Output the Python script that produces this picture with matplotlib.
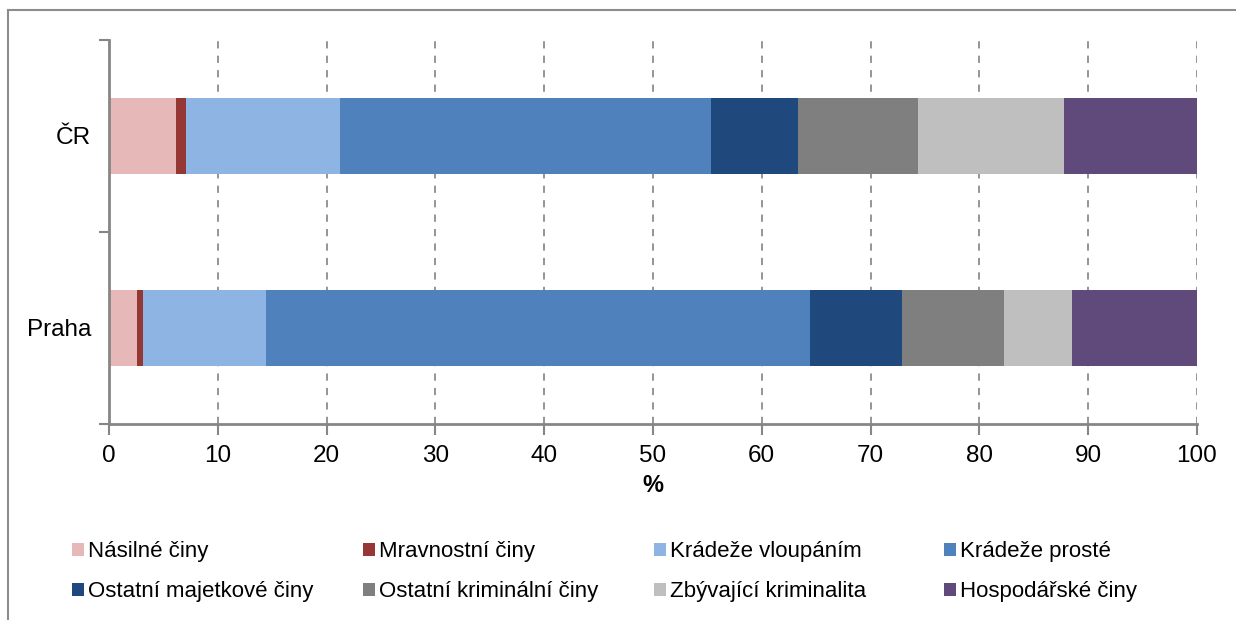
import matplotlib
matplotlib.use("Agg")
import matplotlib.pyplot as plt
from matplotlib.patches import Patch
from matplotlib.lines import Line2D
import numpy as np

plt.rcParams['font.family'] = ['Liberation Sans', 'DejaVu Sans']

categories = ["Praha", "ČR"]
series_names = ["Násilné činy", "Mravnostní činy", "Krádeže vloupáním", "Krádeže prosté",
                "Ostatní majetkové činy", "Ostatní kriminální činy", "Zbývající kriminalita",
                "Hospodářské činy"]
praha_values = [2.6, 0.5, 11.3, 50.0, 8.5, 9.4, 6.2, 11.5]
cr_values = [6.2, 0.9, 14.1, 34.1, 8.0, 11.1, 13.4, 12.2]
colors = ["#E6B9B8", "#953735", "#8EB4E3", "#4F81BD", "#1F497D", "#7F7F7F", "#BFBFBF", "#604A7B"]
xticks = [0, 10, 20, 30, 40, 50, 60, 70, 80, 90, 100]

W, H = 1236, 620
fig = plt.figure(figsize=(W / 100, H / 100), dpi=100)
ax = fig.add_axes([109 / W, 1 - 424 / H, (1197 - 109) / W, (424 - 40) / H])

data = np.array([praha_values, cr_values])
y = np.arange(len(categories))
left = np.zeros(len(categories))
handles = []
for i, name in enumerate(series_names):
    ax.barh(y, data[:, i], left=left, height=0.4, color=colors[i],
            edgecolor='none', zorder=3)
    left += data[:, i]
    handles.append(Patch(facecolor=colors[i], edgecolor='none', label=name))

ax.set_xlim(0, 100)
ax.set_ylim(-0.5, 1.5)
ax.set_xticks(xticks)
ax.set_xticklabels([str(t) for t in xticks], fontsize=17.5)
ax.set_yticks(y)
ax.set_yticklabels(categories, fontsize=17.5)
ax.set_yticks([-0.5, 0.5, 1.5], minor=True)
ax.tick_params(axis='y', which='major', length=0, pad=13)
ax.tick_params(axis='y', which='minor', length=7, width=1.5, color='#868686')
ax.tick_params(axis='x', which='major', length=8, width=1.5, color='#868686', pad=7)

ax.xaxis.grid(True, linestyle=(0, (4, 4)), color='#8C8C8C', linewidth=1.3, zorder=0)
ax.yaxis.grid(False)
for s in ['top', 'right']:
    ax.spines[s].set_visible(False)
for s in ['left', 'bottom']:
    ax.spines[s].set_color('#868686')
    ax.spines[s].set_linewidth(2)
    ax.spines[s].set_zorder(4)

ax.set_xlabel('%', fontsize=17, fontweight='bold', labelpad=5)

# outer border (left and top visible)
fig.add_artist(Line2D([8 / W, 8 / W], [0, 1 - 10 / H], color='#8C8C8C', linewidth=1.5,
                      transform=fig.transFigure))
fig.add_artist(Line2D([8 / W, 1], [1 - 10 / H, 1 - 10 / H], color='#8C8C8C', linewidth=1.5,
                      transform=fig.transFigure))

# legend: 2 rows x 4 columns
col_x = [72, 363, 654, 944]
row_y = [552, 592]
for i, h in enumerate(handles):
    r, c = divmod(i, 4)
    fig.legend(handles=[h], labels=[series_names[i]], loc='center left',
               bbox_to_anchor=(col_x[c] / W, 1 - row_y[r] / H),
               frameon=False, fontsize=16, borderpad=0, borderaxespad=0,
               handlelength=0.56, handleheight=0.56, handletextpad=0.15)

fig.savefig('out.png', dpi=100)
